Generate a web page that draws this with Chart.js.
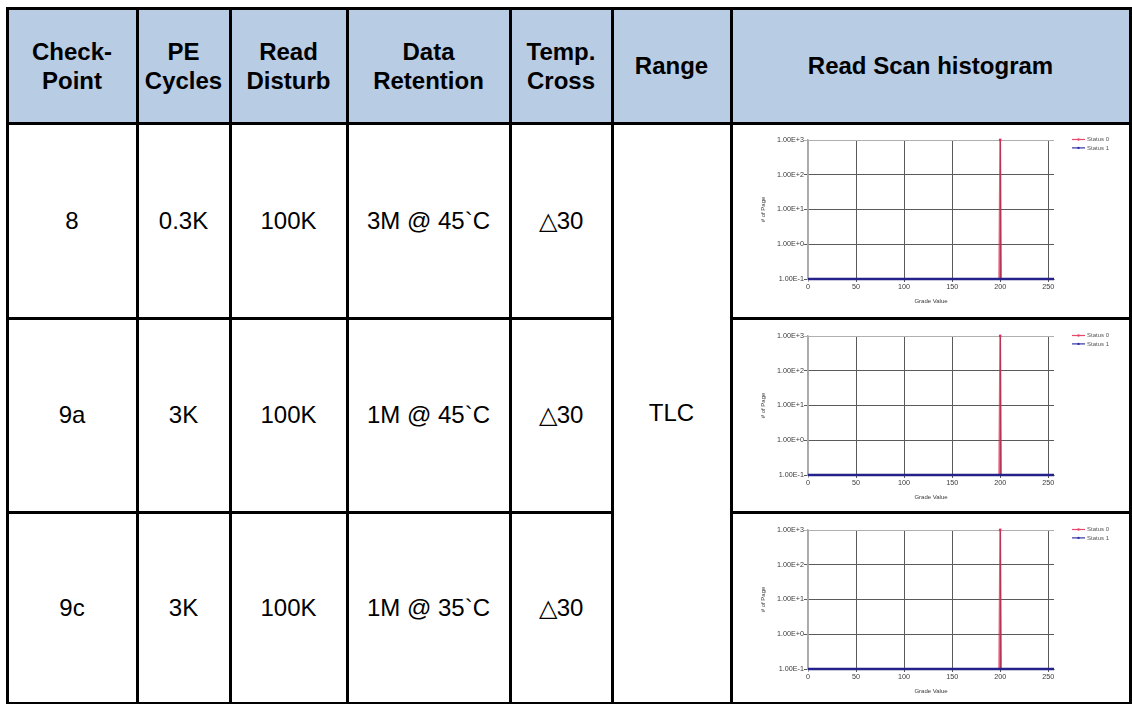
<!DOCTYPE html>
<html><head><meta charset="utf-8">
<script src="https://cdn.jsdelivr.net/npm/chart.js@4.4.0/dist/chart.umd.min.js"></script>
<style>
html,body{margin:0;padding:0;background:#fff;width:1132px;height:704px;overflow:hidden;font-family:"Liberation Sans",Arial,sans-serif;}
.cell{position:absolute;display:flex;align-items:center;justify-content:center;text-align:center;color:#000;}
.hd{font-weight:bold;font-size:24px;line-height:29px;background:#b8cce4;}
.bd{font-size:24px;}
.ln{position:absolute;background:#000;}
canvas{position:absolute;}
</style></head><body>
<div id="root"></div>
<script>
// ---- table text ----
const headerLabels = [["Check-","Point"],["PE","Cycles"],["Read","Disturb"],["Data","Retention"],["Temp.","Cross"],["Range"],["Read Scan histogram"]];
const checkPoints = ["8","9a","9c"];
const peCycles = ["0.3K","3K","3K"];
const readDisturb = ["100K","100K","100K"];
const dataRetention = ["3M @ 45`C","1M @ 45`C","1M @ 35`C"];
const tempCross = ["\u25B330","\u25B330","\u25B330"];
const rangeLabel = "TLC";

// ---- chart data (same histogram in each row) ----
const seriesNames = ["Status 0","Status 1"];
const status0Grades = [0,199,200,201,256];
const status0Pages  = [0.1,0.1,1000,0.1,0.1];
const status1Grades = [0,256];
const status1Pages  = [0.1,0.1];
const xTickValues = [0,50,100,150,200,250];
const yTickValues = [0.1,1,10,100,1000];
const xTitle = "Grade Value";
const yTitle = "# of Page";

// ---- layout ----
const colX = [7,137,230,347,510,612,731,1130];
const rowY = [8,123,318,512,703];
const plotTops = [140,336,530];
const LW = 3;
const root = document.getElementById('root');

function addLine(x,y,w,h){const d=document.createElement('div');d.className='ln';d.style.left=x+'px';d.style.top=y+'px';d.style.width=w+'px';d.style.height=h+'px';root.appendChild(d);}
function addCell(cls,html,x0,x1,y0,y1){const d=document.createElement('div');d.className='cell '+cls;d.style.left=x0+'px';d.style.top=y0+'px';d.style.width=(x1-x0)+'px';d.style.height=(y1-y0)+'px';d.innerHTML=html;root.appendChild(d);}

// header
addCell('hd','',colX[0],colX[7],rowY[0],rowY[1]);
headerLabels.forEach((lab,i)=>addCell('hd',lab.join('<br>'),colX[i]+1,colX[i+1]-1,rowY[0],rowY[1]));
// body
const bodyCols=[checkPoints,peCycles,readDisturb,dataRetention,tempCross];
for(let r=0;r<3;r++){
  bodyCols.forEach((col,c)=>addCell('bd',col[r],colX[c]+1,colX[c+1]-1,rowY[r+1],rowY[r+2]));
}
addCell('bd',rangeLabel,colX[5]+1,colX[6]-1,rowY[1],rowY[4]);

// lines
const h=LW/2;
colX.forEach(x=>addLine(x-h,rowY[0]-h,LW,rowY[4]-rowY[0]+LW));
addLine(colX[0]-h,rowY[0]-h,colX[7]-colX[0]+LW,LW);
addLine(colX[0]-h,rowY[1]-h,colX[7]-colX[0]+LW,LW);
addLine(colX[0]-h,rowY[4]-h,colX[7]-colX[0]+LW,LW);
[rowY[2],rowY[3]].forEach(y=>{addLine(colX[0]-h,y-h,colX[5]-colX[0]+LW,LW);addLine(colX[6]-h,y-h,colX[7]-colX[6]+LW,LW);});

// legend plugin
const legendPlugin={id:'sideLegend',afterDraw(chart){
  const ctx=chart.ctx;const top=chart.chartArea.top-0.5;
  [0,1].forEach((di,i)=>{
    const ds=chart.data.datasets[di];const y=top+i*8.4;
    ctx.save();ctx.strokeStyle=ds.legendColor;ctx.lineWidth=1.2;
    ctx.beginPath();ctx.moveTo(340,y);ctx.lineTo(353,y);ctx.stroke();
    ctx.fillStyle=ds.legendColor;ctx.beginPath();ctx.arc(346.5,y,1.2,0,Math.PI*2);ctx.fill();
    ctx.fillStyle='#555';ctx.font='6px "Liberation Sans", Arial, sans-serif';ctx.textBaseline='middle';ctx.textAlign='left';
    ctx.fillText(ds.label,355,y+0.3);ctx.restore();
  });
}};

const W=397,H=188,PLOT_H=139;
const FONT='"Liberation Sans", Arial, sans-serif';
for(let r=0;r<3;r++){
  const cv=document.createElement('canvas');
  const cTop=rowY[r+1]+2;
  cv.width=W;cv.height=H;cv.style.left='732px';cv.style.top=cTop+'px';cv.style.width=W+'px';cv.style.height=H+'px';
  root.appendChild(cv);
  const plotTop=plotTops[r];
  const plotBottom=plotTop+PLOT_H;
  const padTop=plotTop-cTop;
  const xH=25.6;
  const padBottom=H-(plotBottom-cTop)-xH;
  new Chart(cv,{
    type:'line',
    data:{datasets:[
      {label:seriesNames[0],data:status0Grades.map((g,i)=>({x:g,y:status0Pages[i]})),borderColor:'rgba(215,40,80,0.75)',legendColor:'#e8466a',borderWidth:1.8,
       pointRadius:ctx=>ctx.raw&&ctx.raw.y>1?1.4:0,pointBackgroundColor:'#e0305a',pointBorderWidth:0,tension:0,clip:false,order:1},
      {label:seriesNames[1],data:status1Grades.map((g,i)=>({x:g,y:status1Pages[i]})),borderColor:'#24228a',legendColor:'#3232a8',borderWidth:2.6,pointRadius:0,tension:0,clip:false,order:0}
    ]},
    options:{
      responsive:false,animation:false,devicePixelRatio:1,
      layout:{padding:{left:28,right:75,top:padTop,bottom:padBottom}},
      plugins:{legend:{display:false},tooltip:{enabled:false}},
      scales:{
        x:{type:'linear',min:0,max:256,
          afterBuildTicks:s=>{s.ticks=xTickValues.map(v=>({value:v}));},
          afterFit:s=>{s.height=xH;},
          grid:{color:c=>c.tick&&c.tick.value===0?'#b0b0b0':'#5a5a5a',lineWidth:1,tickLength:3},
          border:{display:true,color:'#9a9a9a',width:1},
          ticks:{font:{size:7.2,family:FONT},color:'#3a3a3a',padding:1,maxRotation:0,autoSkip:false},
          title:{display:true,text:xTitle,font:{size:6,family:FONT},color:'#3a3a3a',padding:0}
        },
        y:{type:'logarithmic',min:0.1,max:1000,
          afterBuildTicks:s=>{s.ticks=yTickValues.map(v=>({value:v}));},
          afterFit:s=>{s.width=48;},
          grid:{color:c=>c.tick&&c.tick.value===1000?'#b0b0b0':'#5a5a5a',lineWidth:1,tickLength:4},
          border:{display:true,color:'#aaaaaa',width:1.5},
          ticks:{font:{size:7.2,family:FONT},color:'#3a3a3a',padding:0,autoSkip:false,
            callback:v=>Number(v).toExponential(2).toUpperCase()},
          title:{display:true,text:yTitle,font:{size:6,family:FONT},color:'#3a3a3a',padding:0}
        }
      }
    },
    plugins:[legendPlugin]
  });
}
</script>
</body></html>
